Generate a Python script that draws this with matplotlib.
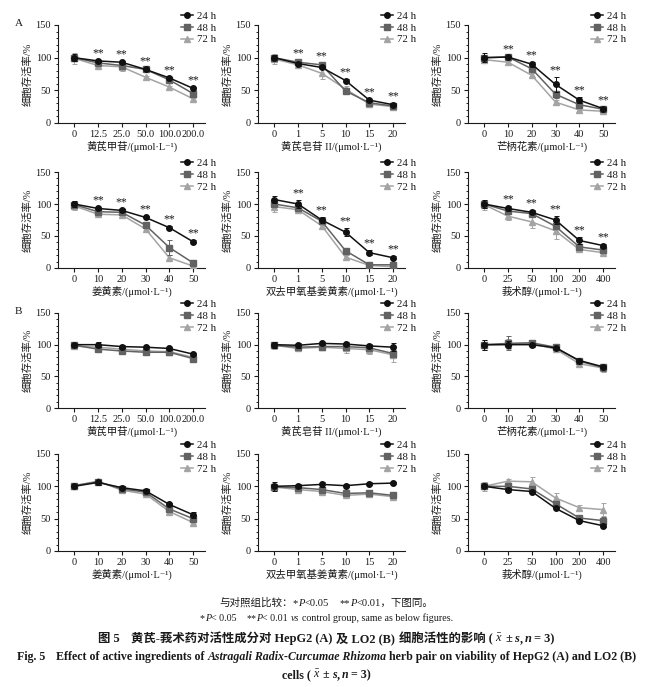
import numpy as np
import matplotlib
matplotlib.use('Agg')
import matplotlib.pyplot as plt
from matplotlib.ticker import MultipleLocator

plt.rcParams['font.family'] = ['Liberation Serif', 'Noto Sans CJK SC', 'DejaVu Serif']
plt.rcParams['mathtext.fontset'] = 'custom'
plt.rcParams['mathtext.rm'] = 'Liberation Serif'
plt.rcParams['mathtext.it'] = 'Liberation Serif:italic'
plt.rcParams['mathtext.bf'] = 'Liberation Serif:bold'

# ---- data ----
times = ['24 h', '48 h', '72 h']

conc_agiv = ['0', '12.5', '25.0', '50.0', '100.0', '200.0']
conc_agii = ['0', '1', '5', '10', '15', '20']
conc_form = ['0', '10', '20', '30', '40', '50']
conc_cur = ['0', '10', '20', '30', '40', '50']
conc_bdmc = ['0', '1', '5', '10', '15', '20']
conc_curol = ['0', '25', '50', '100', '200', '400']

xl_agiv = '黄芪甲苷/(μmol·L⁻¹)'
xl_agii = '黄芪皂苷 II/(μmol·L⁻¹)'
xl_form = '芒柄花素/(μmol·L⁻¹)'
xl_cur = '姜黄素/(μmol·L⁻¹)'
xl_bdmc = '双去甲氧基姜黄素/(μmol·L⁻¹)'
xl_curol = '莪术醇/(μmol·L⁻¹)'

# HepG2 (A): rows are 24 h, 48 h, 72 h
hep_agiv = [[100, 95, 93, 82, 69, 53], [100, 92, 88, 82, 66, 45], [99, 88, 86, 70, 55, 37]]
hep_agiv_sd = [[5, 2, 2, 2, 2, 2], [4, 2, 3, 2, 2, 2], [8, 4, 6, 2, 2, 2]]
hep_agii = [[100, 91, 85, 65, 35, 28], [100, 93, 89, 49, 31, 26], [98, 89, 76, 52, 29, 25]]
hep_agii_sd = [[4, 3, 2, 2, 2, 2], [3, 3, 3, 2, 2, 2], [8, 4, 8, 4, 2, 2]]
hep_form = [[100, 101, 90, 59, 35, 22], [100, 101, 83, 44, 28, 21], [97, 93, 73, 32, 20, 18]]
hep_form_sd = [[7, 2, 4, 11, 5, 2], [3, 2, 3, 5, 3, 2], [3, 2, 3, 3, 2, 2]]
hep_cur = [[100, 93, 90, 79, 63, 41], [99, 88, 87, 67, 32, 8], [97, 84, 83, 61, 16, 3]]
hep_cur_sd = [[5, 2, 2, 2, 2, 2], [3, 2, 2, 4, 11, 3], [7, 3, 3, 5, 4, 3]]
hep_bdmc = [[107, 100, 75, 56, 24, 16], [100, 94, 73, 27, 5, 5], [96, 91, 66, 17, 4, 2]]
hep_bdmc_sd = [[6, 6, 4, 6, 4, 2], [5, 3, 3, 4, 2, 2], [8, 3, 4, 3, 1, 1]]
hep_curol = [[100, 93, 87, 75, 43, 35], [100, 89, 85, 65, 33, 28], [99, 81, 72, 58, 29, 24]]
hep_curol_sd = [[6, 4, 3, 6, 5, 3], [4, 3, 3, 4, 4, 3], [8, 6, 10, 12, 3, 2]]

# LO2 (B)
lo2_agiv = [[100, 100, 97, 96, 94, 85], [99, 93, 90, 88, 88, 78], [98, 96, 93, 90, 89, 80]]
lo2_agiv_sd = [[3, 4, 3, 2, 2, 2], [2, 2, 2, 2, 2, 2], [2, 2, 2, 2, 2, 2]]
lo2_agii = [[100, 99, 102, 101, 98, 96], [99, 96, 97, 97, 95, 86], [99, 94, 96, 94, 92, 84]]
lo2_agii_sd = [[5, 4, 3, 3, 3, 6], [5, 4, 3, 3, 3, 5], [6, 4, 4, 7, 6, 12]]
lo2_form = [[100, 100, 100, 95, 75, 65], [100, 102, 103, 96, 74, 64], [99, 101, 102, 93, 70, 63]]
lo2_form_sd = [[8, 6, 3, 2, 3, 3], [5, 11, 3, 3, 3, 5], [8, 8, 3, 3, 3, 6]]
lo2_cur = [[100, 106, 98, 93, 72, 56], [101, 107, 96, 91, 65, 50], [101, 108, 94, 88, 61, 44]]
lo2_cur_sd = [[3, 4, 2, 3, 2, 5], [3, 3, 2, 3, 4, 4], [3, 3, 2, 3, 4, 3]]
lo2_bdmc = [[100, 101, 103, 101, 104, 105], [99, 98, 95, 89, 90, 86], [99, 95, 92, 86, 88, 84]]
lo2_bdmc_sd = [[7, 3, 4, 2, 2, 2], [5, 3, 4, 3, 3, 3], [5, 3, 3, 3, 3, 3]]
lo2_curol = [[100, 95, 92, 66, 47, 39], [100, 100, 96, 73, 51, 47], [100, 108, 107, 82, 67, 64]]
lo2_curol_sd = [[3, 3, 3, 2, 2, 2], [3, 4, 4, 4, 3, 5], [7, 3, 8, 7, 4, 10]]

colors = ['#111111', '#626262', '#a4a4a4']
markers = ['o', 's', '^']
txt_col = '#1a1a1a'
fs = 7.5

W, H = 653, 687
fig = plt.figure(figsize=(W / 100, H / 100), dpi=100)

col_left = [58, 258, 468]
row_top = [25, 172, 313, 454]
row_bot = [123, 268, 408, 551]
ax_w = 147


def draw_panel(ax, labels, means, sds, xlabel, stars):
    x = np.arange(len(labels))
    lines = []
    for k in [2, 1, 0]:
        ax.errorbar(x, means[k], yerr=sds[k], fmt='none', ecolor=colors[k],
                    elinewidth=0.7, capsize=1.8, capthick=0.7, zorder=3 + 2 * (2 - k))
        ln, = ax.plot(x, means[k], color=colors[k], marker=markers[k], markersize=4,
                      lw=1.1, zorder=4 + 2 * (2 - k), label=times[k])
        lines.append(ln)
    if stars:
        for i in range(1, len(labels)):
            top = max(means[k][i] + sds[k][i] for k in range(3))
            ax.text(x[i], top + 1, '**', ha='center', va='bottom', fontsize=8.5,
                    color=txt_col)
    ax.set_xlim(-0.68, 5.5)
    ax.set_ylim(0, 150)
    ax.set_xticks(x)
    ax.set_xticklabels(labels)
    ax.set_yticks([0, 50, 100, 150])
    ax.yaxis.set_minor_locator(MultipleLocator(10))
    ax.tick_params(which='major', direction='out', length=3, width=0.8, labelsize=fs,
                   pad=2, colors=txt_col)
    ax.tick_params(which='minor', direction='out', length=1.6, width=0.6)
    for s in ['top', 'right']:
        ax.spines[s].set_visible(False)
    for s in ['left', 'bottom']:
        ax.spines[s].set_linewidth(0.8)
        ax.spines[s].set_color(txt_col)
    ax.set_xlabel(xlabel, fontsize=fs, labelpad=1.5, color=txt_col)
    ax.set_ylabel('细胞存活率/%', fontsize=fs, labelpad=2, color=txt_col)
    leg = ax.legend(handles=lines[::-1], loc='upper left', bbox_to_anchor=(0.84, 1.14),
                    frameon=False, fontsize=fs + 0.3, handlelength=1.1, handletextpad=0.3,
                    labelspacing=0.2, borderaxespad=0, borderpad=0)
    for t in leg.get_texts():
        t.set_color(txt_col)


panels = [
    (conc_agiv, hep_agiv, hep_agiv_sd, xl_agiv, True),
    (conc_agii, hep_agii, hep_agii_sd, xl_agii, True),
    (conc_form, hep_form, hep_form_sd, xl_form, True),
    (conc_cur, hep_cur, hep_cur_sd, xl_cur, True),
    (conc_bdmc, hep_bdmc, hep_bdmc_sd, xl_bdmc, True),
    (conc_curol, hep_curol, hep_curol_sd, xl_curol, True),
    (conc_agiv, lo2_agiv, lo2_agiv_sd, xl_agiv, False),
    (conc_agii, lo2_agii, lo2_agii_sd, xl_agii, False),
    (conc_form, lo2_form, lo2_form_sd, xl_form, False),
    (conc_cur, lo2_cur, lo2_cur_sd, xl_cur, False),
    (conc_bdmc, lo2_bdmc, lo2_bdmc_sd, xl_bdmc, False),
    (conc_curol, lo2_curol, lo2_curol_sd, xl_curol, False),
]

for n, p in enumerate(panels):
    r, c = divmod(n, 3)
    rect = [col_left[c] / W, 1 - row_bot[r] / H, ax_w / W, (row_bot[r] - row_top[r]) / H]
    ax = fig.add_axes(rect)
    draw_panel(ax, *p)

fig.text(15 / W, 1 - 23 / H, 'A', fontsize=8, va='center', color=txt_col)
fig.text(15 / W, 1 - 311 / H, 'B', fontsize=8, va='center', color=txt_col)


# ---- caption lines built from pieces so that italics can be mixed in ----
renderer = fig.canvas.get_renderer()


def rich_line(y_px, pieces, size, weight='normal'):
    items = []
    for p in pieces:
        if isinstance(p, (int, float)):
            items.append(p)
            continue
        s, style = p
        kw = dict(fontsize=size, va='baseline', ha='left', color=txt_col, weight=weight)
        if style == 'it':
            kw['style'] = 'italic'
        t = fig.text(0, 1 - y_px / H, s, **kw)
        items.append(t)
    widths = []
    for it in items:
        if isinstance(it, (int, float)):
            widths.append(it)
        else:
            widths.append(it.get_window_extent(renderer).width)
    x = (W - sum(widths)) / 2
    for it, w in zip(items, widths):
        if not isinstance(it, (int, float)):
            it.set_x(x / W)
        x += w


rich_line(606, [('与对照组比较：', 'rm'), ('*', 'rm'), ('P', 'it'), ('<0.05', 'rm'), 11,
                ('**', 'rm'), ('P', 'it'), ('<0.01，下图同。', 'rm')], 7.6)
rich_line(621, [('*', 'rm'), ('P', 'it'), ('< 0.05', 'rm'), 10, ('**', 'rm'), ('P', 'it'),
                ('< 0.01', 'rm'), 2.8, ('vs', 'it'), 2.8,
                ('control group, same as below figures.', 'rm')], 7.2)
rich_line(642, [('图 5', 'rm'), 11, ('黄芪-莪术药对活性成分对 HepG2 (A)', 'rm'), 4,
                ('及 LO2 (B)', 'rm'), 4, ('细胞活性的影响 (', 'rm'), 2, (r'$\bar{x}$', 'rm'),
                2.5, ('±', 'rm'), 2.5, ('s', 'it'), (',', 'rm'), 2.5, ('n', 'it'), 2.5,
                ('= 3)', 'rm')], 8.9, weight='bold')
rich_line(660, [('Fig. 5', 'rm'), 11, ('Effect of active ingredients of', 'rm'), 2.6,
                ('Astragali Radix-Curcumae Rhizoma', 'it'), 2.6,
                ('herb pair on viability of HepG2 (A) and LO2 (B)', 'rm')], 8.6, weight='bold')
rich_line(678, [('cells (', 'rm'), 2, (r'$\bar{x}$', 'rm'), 2.5, ('±', 'rm'), 2.5,
                ('s', 'it'), (',', 'rm'), 2.5, ('n', 'it'), 2.5, ('= 3)', 'rm')], 8.6,
          weight='bold')

fig.savefig('out.png', dpi=100)
